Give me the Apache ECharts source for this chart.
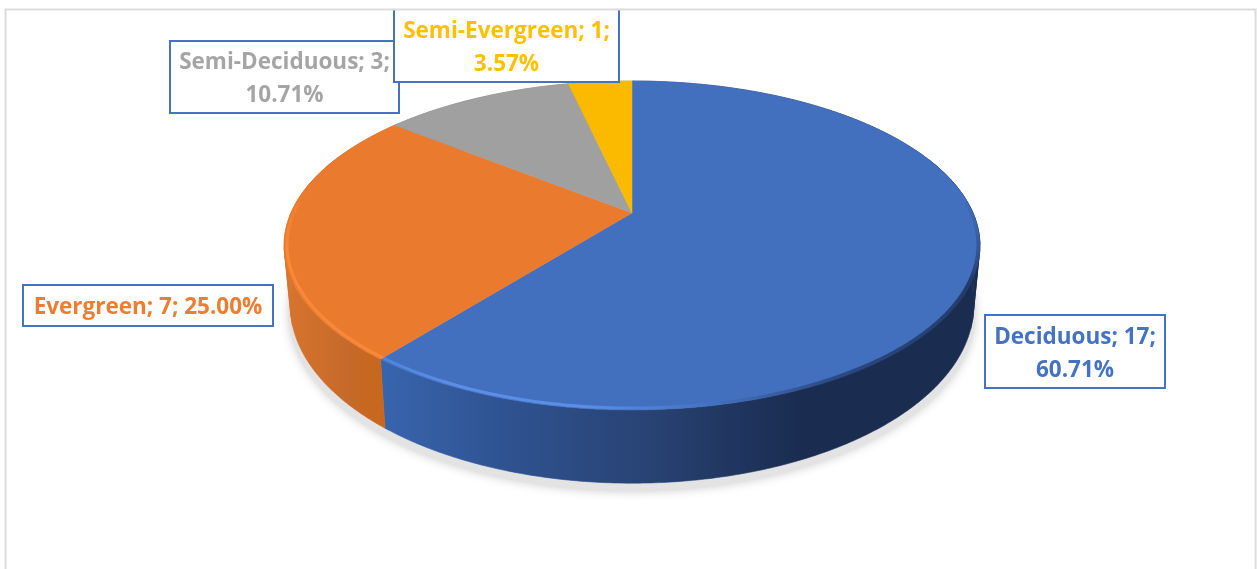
<!DOCTYPE html>
<html>
<head>
<meta charset="utf-8">
<style>html,body{margin:0;padding:0;background:#fff}#chart{width:1258px;height:569px}</style>
<script src="https://cdn.jsdelivr.net/npm/echarts@6/dist/echarts.min.js"></script>
</head>
<body>
<div id="chart"></div>
<script>
// Leaf habit counts shown as a tilted pie
const categories = ['Deciduous', 'Evergreen', 'Semi-Deciduous', 'Semi-Evergreen'];
const counts = [17, 7, 3, 1];

const total = counts.reduce((s, n) => s + n, 0);
const TAU = Math.PI * 2;

// Perspective of the upper and lower faces of the disc
const topFace = { cx: 632, k: 341, a: -116, b: 213, c: 0.1976 };
const lowFace = { cx: 632, k: 335, a: -117.7, b: 270, c: 0.1976 };

function project(face, angle, r) {
  const u = r * Math.sin(angle), v = r * Math.cos(angle), w = 1 + face.c * v;
  return [face.cx + face.k * u / w, (face.a * v + face.b) / w];
}
function arc(face, from, to, r, step) {
  const pts = [], n = Math.max(2, Math.ceil((to - from) / (step || 0.01)));
  for (let i = 0; i <= n; i++) pts.push(project(face, from + (to - from) * i / n, r));
  return pts;
}
function sliceRange(i, values) {
  let before = 0;
  for (let j = 0; j < i; j++) before += values[j];
  return [before / total * TAU, (before + values[i]) / total * TAU];
}
function grad(x0, y0, x1, y1, stops) {
  return new echarts.graphic.LinearGradient(x0, y0, x1, y1,
    stops.map(s => ({ offset: s[0], color: s[1] })), true);
}

const topColors = ['#4270bf', '#ea7b2e', '#a0a0a0', '#fbba00'];
const textColors = ['#4472c4', '#ed7d31', '#a5a5a5', '#ffc000'];
const wallFills = [
  grad(384, 0, 980, 0, [[0, '#3864ad'], [0.2, '#2f5391'], [0.45, '#284273'], [0.7, '#1a2c50'], [1, '#1a2c50']]),
  grad(284, 0, 390, 0, [[0, '#d9742e'], [0.6, '#c56a2a'], [1, '#c96619']]),
  '#7d7d7d',
  '#bf9000'
];
// Angles around the left and right extremes, where the wall's outline leaves the faces
const silhouetteSpans = [[1.2, 1.9], [4.4, 5.1]];

// Bevel strokes along the disc's outer edge: angular span, radius, width, colour ramp
const bevels = [
  { slice: 0, span: [2.5, 3.815], r: 0.992, width: 3,
    stroke: grad(384, 0, 720, 0, [[0, '#4f83dc'], [0.2, '#5a8ee8'], [0.6, '#5a8ee8'], [1, 'rgba(90,142,232,0)']]) },
  { slice: 0, span: [1.5, 3.0], r: 0.996, width: 4,
    stroke: grad(985, 225, 700, 405, [[0, 'rgba(30,50,92,0)'], [0.12, 'rgba(30,50,92,0.85)'], [0.6, 'rgba(36,62,114,0.8)'], [0.96, 'rgba(36,62,114,0)']]) },
  { slice: 1, span: [3.815, 5.0], r: 0.992, width: 3,
    stroke: grad(0, 190, 0, 250, [[0, 'rgba(250,135,56,0)'], [1, '#fb8838']]) }
];

// Label boxes: left, top, width, height, and whether the percentage wraps
const labelBoxes = [
  { x: 985, y: 315, w: 180, h: 73, wrap: true },
  { x: 23, y: 285, w: 250, h: 41, wrap: false },
  { x: 170, y: 41, w: 229, h: 72, wrap: true },
  { x: 394, y: 4, w: 225, h: 78, wrap: true, textTop: 10 }
];
const labelFont = 'bold 22.5px "Open Sans", Lato, sans-serif';

const seriesData = counts.map((v, i) => ({ name: categories[i], value: v }));

const renderShadow = (params, api) => {
  if (params.dataIndex !== 0) return null;
  const pts = arc(lowFace, 0, TAU, 1.005).map(p => [p[0], p[1] + 7]);
  return {
    type: 'polygon', shape: { points: pts },
    style: { fill: '#e3e3e3', shadowBlur: 10, shadowColor: 'rgba(200,200,200,0.9)' }
  };
};

const renderWall = (params, api) => {
  const i = params.dataIndex;
  const [a0, a1] = sliceRange(i, counts.map((_, j) => api.value(0, j)));
  const style = { fill: wallFills[i], stroke: wallFills[i], lineWidth: 0.6 };
  const children = [{
    type: 'polygon',
    shape: { points: arc(topFace, a0, a1, 1).concat(arc(lowFace, a0, a1, 1).reverse()) },
    style
  }];
  // Close the gap between the two faces at the disc's widest points
  silhouetteSpans.forEach(([s0, s1]) => {
    const from = Math.max(a0, s0), to = Math.min(a1, s1);
    if (to <= from) return;
    const upper = arc(topFace, from, to, 1, 0.05), lower = arc(lowFace, from, to, 1, 0.05);
    for (let s = 0; s + 1 < upper.length; s++) {
      children.push({
        type: 'polygon',
        shape: { points: [upper[s], upper[s + 1], lower[s + 1], lower[s]] },
        style
      });
    }
  });
  return { type: 'group', children };
};

const renderTop = (params, api) => {
  const i = params.dataIndex;
  const [a0, a1] = sliceRange(i, counts.map((_, j) => api.value(0, j)));
  const pts = [project(topFace, 0, 0)].concat(arc(topFace, a0, a1, 1));
  const children = [{
    type: 'polygon', shape: { points: pts },
    style: { fill: topColors[i], stroke: topColors[i], lineWidth: 0.5 }
  }];
  bevels.filter(b => b.slice === i).forEach(b => {
    children.push({
      type: 'polyline',
      shape: { points: arc(topFace, b.span[0], b.span[1], b.r) },
      style: { fill: 'none', stroke: b.stroke, lineWidth: b.width }
    });
  });
  return { type: 'group', children };
};

const renderLabel = (params, api) => {
  const i = params.dataIndex;
  const value = api.value(0);
  const box = labelBoxes[i];
  const pct = (value / total * 100).toFixed(2) + '%';
  const text = categories[i] + '; ' + value + ';' + (box.wrap ? '\n' : ' ') + pct;
  const textTop = box.textTop !== undefined ? box.textTop : box.y;
  return {
    type: 'group',
    children: [{
      type: 'rect',
      shape: { x: box.x, y: box.y, width: box.w, height: box.h },
      style: { fill: '#fff', stroke: '#4472c4', lineWidth: 2 }
    }, {
      type: 'text',
      style: {
        x: box.x + box.w / 2,
        y: textTop + (box.y + box.h - textTop) / 2 + 2.5,
        text, fill: textColors[i], font: labelFont,
        align: 'center', verticalAlign: 'middle', lineHeight: 33
      }
    }]
  };
};

const customLayer = (z, renderItem) => ({
  type: 'custom', coordinateSystem: 'none', z, data: seriesData,
  encode: { value: 0 }, renderItem, silent: true, animation: false
});

const chart = echarts.init(document.getElementById('chart'), null, { renderer: 'canvas' });
chart.setOption({
  backgroundColor: '#fff',
  animation: false,
  series: [
    customLayer(1, renderShadow),
    customLayer(2, renderWall),
    customLayer(3, renderTop),
    customLayer(4, renderLabel)
  ],
  graphic: [
    { type: 'rect', z: 10, shape: { x: 0, y: 0, width: 1258, height: 9 }, style: { fill: '#fff' } },
    { type: 'polyline', z: 11,
      shape: { points: [[5.5, 569], [5.5, 9.5], [1255.5, 9.5], [1255.5, 569]] },
      style: { fill: 'none', stroke: '#dcdcdc', lineWidth: 2 } }
  ]
});
</script>
</body>
</html>
